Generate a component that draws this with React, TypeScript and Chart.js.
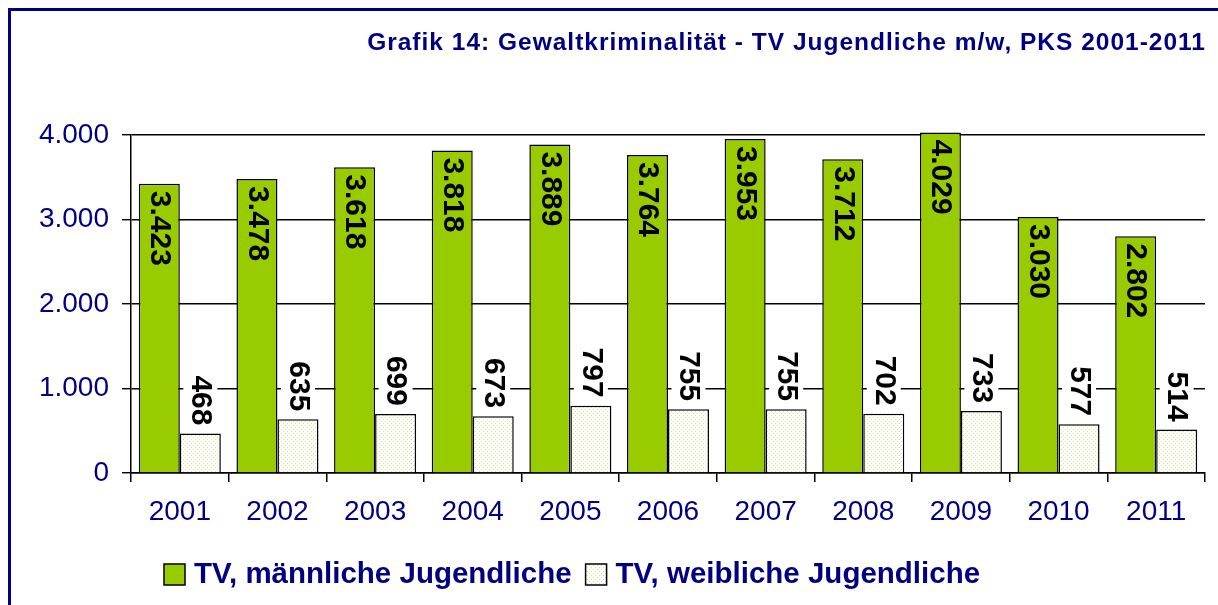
import React, { useEffect, useRef } from 'react';
import { Chart, registerables } from 'chart.js';

Chart.register(...registerables);

const years = ['2001', '2002', '2003', '2004', '2005', '2006', '2007', '2008', '2009', '2010', '2011'];
const maleValues = [3423, 3478, 3618, 3818, 3889, 3764, 3953, 3712, 4029, 3030, 2802];
const femaleValues = [468, 635, 699, 673, 797, 755, 755, 702, 733, 577, 514];
const yTickValues = [0, 1000, 2000, 3000, 4000];
const seriesLabels = ['TV, männliche Jugendliche', 'TV, weibliche Jugendliche'];
const titleText = 'Grafik 14: Gewaltkriminalität - TV Jugendliche m/w, PKS 2001-2011';

const NAVY = '#000080';
const GREEN = '#99CC00';
const FONT = '"Liberation Sans", Arial, sans-serif';

const fmt = (n: number) => String(n).replace(/\B(?=(\d{3})+(?!\d))/g, '.');

function makePattern(): CanvasPattern | string {
  const c = document.createElement('canvas');
  c.width = 4;
  c.height = 4;
  const g = c.getContext('2d');
  if (!g) return '#ffffff';
  g.fillStyle = '#ffffff';
  g.fillRect(0, 0, 4, 4);
  g.fillStyle = '#d6e48c';
  g.fillRect(1, 1, 1, 1);
  g.fillRect(3, 3, 1, 1);
  const p = g.createPattern(c, 'repeat');
  return p || '#ffffff';
}

const labelPlugin = {
  id: 'barLabels',
  afterDatasetsDraw(chart: any) {
    const ctx = chart.ctx as CanvasRenderingContext2D;
    ctx.save();
    ctx.font = `bold 30px ${FONT}`;
    chart.data.datasets.forEach((ds: any, di: number) => {
      const meta = chart.getDatasetMeta(di);
      meta.data.forEach((bar: any, i: number) => {
        const text = fmt(ds.data[i]);
        const { x, y } = bar.getProps(['x', 'y'], true);
        ctx.save();
        ctx.textBaseline = 'middle';
        if (di === 0) {
          ctx.translate(x, y + 7);
          ctx.rotate(Math.PI / 2);
          ctx.textAlign = 'left';
          ctx.fillStyle = '#000';
          ctx.fillText(text, 0, 0);
        } else {
          ctx.translate(x, y - 8);
          ctx.rotate(Math.PI / 2);
          const w = ctx.measureText(text).width;
          ctx.fillStyle = '#ffffff';
          ctx.fillRect(-w - 3, -17, w + 6, 34);
          ctx.textAlign = 'right';
          ctx.fillStyle = '#000';
          ctx.fillText(text, 0, 0);
        }
        ctx.restore();
      });
    });
    ctx.restore();
  },
};

const decorPlugin = {
  id: 'decor',
  afterDraw(chart: any) {
    const ctx = chart.ctx as CanvasRenderingContext2D;
    const area = chart.chartArea;
    ctx.save();
    // title
    ctx.font = `bold 24.5px ${FONT}`;
    (ctx as any).letterSpacing = '1px';
    ctx.fillStyle = NAVY;
    ctx.textAlign = 'right';
    ctx.textBaseline = 'middle';
    ctx.fillText(chart.options.plugins.decor.title, area.right + 1, 43);
    (ctx as any).letterSpacing = '0px';
    // legend
    ctx.font = `bold 29.5px ${FONT}`;
    ctx.textAlign = 'left';
    let x = 164;
    const yc = 574.5;
    chart.data.datasets.forEach((ds: any) => {
      ctx.fillStyle = ds.backgroundColor;
      ctx.fillRect(x, yc - 10.5, 21, 21);
      ctx.lineWidth = 1.5;
      ctx.strokeStyle = '#000';
      ctx.strokeRect(x, yc - 10.5, 21, 21);
      x += 30;
      ctx.fillStyle = NAVY;
      ctx.fillText(ds.label, x, yc);
      x += ctx.measureText(ds.label).width + 14;
    });
    ctx.restore();
  },
};

export default function App() {
  const ref = useRef<HTMLCanvasElement | null>(null);

  useEffect(() => {
    if (!ref.current) return;
    const pattern = makePattern();
    const chart = new Chart(ref.current, {
      type: 'bar',
      data: {
        labels: years,
        datasets: [
          {
            label: seriesLabels[0],
            data: maleValues,
            backgroundColor: GREEN,
            borderColor: '#000',
            borderWidth: 1.5,
            categoryPercentage: 0.84,
            barPercentage: 1,
            clip: false as any,
          },
          {
            label: seriesLabels[1],
            data: femaleValues,
            backgroundColor: pattern as any,
            borderColor: '#000',
            borderWidth: 1.5,
            categoryPercentage: 0.84,
            barPercentage: 1,
          },
        ],
      },
      options: {
        animation: false,
        responsive: false,
        devicePixelRatio: 1,
        layout: { padding: { top: 135, right: 13, left: 0, bottom: 0 } },
        plugins: {
          legend: { display: false },
          title: { display: false },
          tooltip: { enabled: false },
          decor: { title: titleText },
        } as any,
        scales: {
          x: {
            afterFit: (s: any) => {
              s.height = 132;
            },
            grid: {
              display: true,
              drawOnChartArea: false,
              drawTicks: true,
              tickLength: 9,
              color: '#000',
              lineWidth: 1.5,
              offset: true,
            },
            border: { display: true, color: '#000', width: 1.5 },
            ticks: {
              color: NAVY,
              font: { size: 28, family: FONT },
              padding: 13,
              maxRotation: 0,
              autoSkip: false,
            },
          },
          y: {
            min: 0,
            max: 4000,
            afterFit: (s: any) => {
              s.width = 131;
            },
            afterBuildTicks: (s: any) => {
              s.ticks = yTickValues.map((v) => ({ value: v }));
            },
            grid: {
              color: '#000',
              lineWidth: 1.4,
              tickLength: 9,
              drawTicks: true,
            },
            border: { display: true, color: '#000', width: 1.5 },
            ticks: {
              color: NAVY,
              font: { size: 28, family: FONT },
              padding: 13,
              callback: (v: any) => fmt(Number(v)),
            },
          },
        },
      },
      plugins: [labelPlugin, decorPlugin],
    });
    return () => chart.destroy();
  }, []);

  return (
    <>
      <div
        style={{
          position: 'absolute',
          left: 8,
          top: 8,
          width: 1210,
          height: 597,
          boxSizing: 'border-box',
          borderLeft: `3px solid ${NAVY}`,
          borderTop: `3px solid ${NAVY}`,
        }}
      />
      <canvas
        ref={ref}
        width={1218}
        height={605}
        style={{ position: 'absolute', left: 0, top: 0, width: 1218, height: 605 }}
      />
    </>
  );
}
